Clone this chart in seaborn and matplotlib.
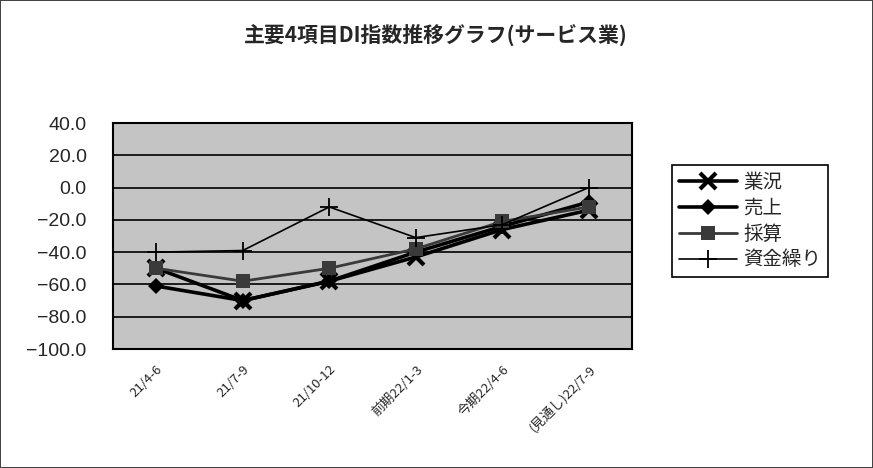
import matplotlib
matplotlib.use("Agg")
import matplotlib.pyplot as plt
import seaborn as sns
import pandas as pd

# Survey periods (quarters)
categories = ["21/4-6", "21/7-9", "21/10-12", "前期22/1-3", "今期22/4-6", "(見通し)22/7-9"]

# DI values per item
gyokyo = [-50, -70, -58, -43, -26, -14]      # 業況
uriage = [-61, -70, -58, -40, -24, -9]       # 売上
saisan = [-50, -58, -50, -38, -21, -12]      # 採算
shikin = [-40, -39, -12, -31, -23, 0]        # 資金繰り

series_names = ["業況", "売上", "採算", "資金繰り"]
yticks = [40, 20, 0, -20, -40, -60, -80, -100]

sns.set_theme(style="white")
plt.rcParams["font.family"] = ["Liberation Sans", "Noto Sans CJK JP", "DejaVu Sans"]

fig = plt.figure(figsize=(8.73, 4.68), dpi=100)
fig.patch.set_facecolor("white")
fig.patch.set_edgecolor("#444444")
fig.patch.set_linewidth(1.2)
ax = fig.add_axes([113 / 873, 1 - 349 / 468, (632 - 113) / 873, (349 - 123) / 468])
ax.set_facecolor("#c4c4c4")

styles = {
    "業況": dict(marker="x", markersize=12, markeredgewidth=3, linewidth=2.6, color="black"),
    "売上": dict(marker="D", markersize=8, markeredgewidth=0, linewidth=2.6, color="black"),
    "採算": dict(marker="s", markersize=10, markeredgewidth=0, linewidth=2.0, color="#3a3a3a"),
    "資金繰り": dict(marker="+", markersize=13, markeredgewidth=1.3, linewidth=1.2, color="black"),
}

values = {"業況": gyokyo, "売上": uriage, "採算": saisan, "資金繰り": shikin}
for name in series_names:
    df = pd.DataFrame({"period": categories, "DI": values[name]})
    st = styles[name]
    sns.lineplot(data=df, x="period", y="DI", ax=ax, sort=False,
                 color=st["color"], linewidth=st["linewidth"],
                 marker=st["marker"], markersize=st["markersize"],
                 markeredgewidth=st["markeredgewidth"], markeredgecolor=st["color"],
                 markerfacecolor=st["color"], label=name, zorder=3)

ax.set_xlim(-0.5, len(categories) - 0.5)
ax.set_ylim(-100, 40)
ax.set_yticks(yticks)
ax.set_yticklabels([f"{v:.1f}".replace("-", "\u2212") for v in yticks],
                   fontsize=14, family=["Liberation Sans", "DejaVu Sans"])
ax.yaxis.grid(True, color="black", linewidth=1.2, zorder=1)
ax.set_axisbelow(True)
ax.set_xticks(range(len(categories)))
ax.set_xticklabels(categories, rotation=45, ha="right", rotation_mode="anchor",
                   fontsize=9.5, family=["Noto Sans CJK JP", "DejaVu Sans"])
ax.tick_params(axis="both", length=0)
ax.tick_params(axis="x", pad=10)
ax.tick_params(axis="y", pad=19)
ax.set_xlabel("")
ax.set_ylabel("")
for sp in ax.spines.values():
    sp.set_color("black")
    sp.set_linewidth(1.5)

leg = ax.legend(loc="upper left", bbox_to_anchor=(672 / 873, 1 - 165 / 468),
                bbox_transform=fig.transFigure, frameon=True, fancybox=False,
                edgecolor="black", framealpha=1, handlelength=3.0,
                borderpad=0.35, labelspacing=0.25, handletextpad=0.3,
                borderaxespad=0,
                prop={"family": ["Noto Sans CJK JP", "DejaVu Sans"], "size": 14})
leg.get_frame().set_linewidth(1.2)

fig.text(436 / 873, 1 - 35 / 468, "主要4項目DI指数推移グラフ(サービス業)",
         ha="center", va="center", fontsize=15, fontweight="bold",
         family=["Noto Sans CJK JP", "DejaVu Sans"])

fig.savefig("out.png", dpi=100)
